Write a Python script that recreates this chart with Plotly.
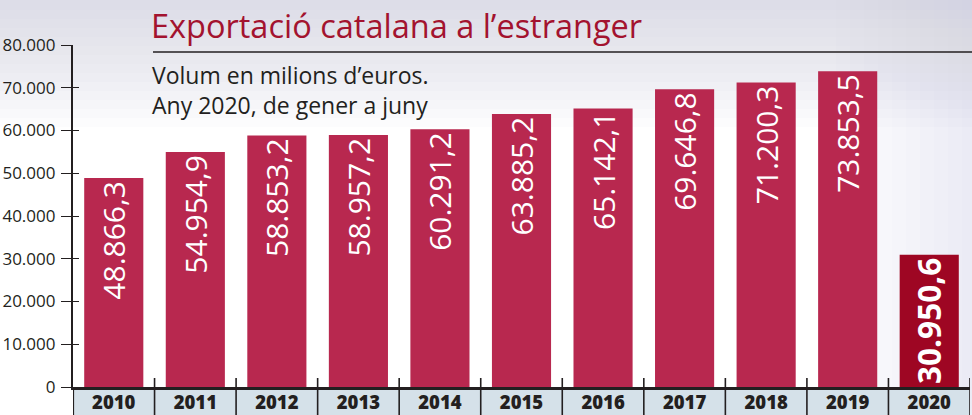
import plotly.graph_objects as go

years = ["2010", "2011", "2012", "2013", "2014", "2015", "2016", "2017", "2018", "2019", "2020"]
values = [48866.3, 54954.9, 58853.2, 58957.2, 60291.2, 63885.2, 65142.1, 69646.8, 71200.3, 73853.5, 30950.6]
value_labels = ["48.866,3", "54.954,9", "58.853,2", "58.957,2", "60.291,2", "63.885,2",
                "65.142,1", "69.646,8", "71.200,3", "73.853,5", "30.950,6"]
y_tickvals = [0, 10000, 20000, 30000, 40000, 50000, 60000, 70000, 80000]
y_ticktext = ["0", "10.000", "20.000", "30.000", "40.000", "50.000", "60.000", "70.000", "80.000"]
title_text = "Exportació catalana a l’estranger"
subtitle_lines = ["Volum en milions d’euros.", "Any 2020, de gener a juny"]

W, H = 972, 415
ML, MR, MT, MB = 73, 2, 45, 28
PW, PH = W - ML - MR, H - MT - MB


def xp(px):
    return (px - ML) / PW


def yp(py):
    return (H - MB - py) / PH


bar_colors = ["#b8284f"] * 10 + ["#9e0623"]
label_fonts = dict(family="Open Sans, sans-serif", color="white",
                   size=[30] * 10 + [33])
label_text = [t if i < 10 else "<b>" + t + "</b>" for i, t in enumerate(value_labels)]

fig = go.Figure()
fig.add_trace(go.Bar(
    x=years, y=values, marker=dict(color=bar_colors, line=dict(width=0)),
    text=label_text, textposition="inside", insidetextanchor="end", textangle=-90,
    textfont=label_fonts, hoverinfo="skip", showlegend=False,
))

shapes = []
# background gradient (top)
for i in range(14):
    shapes.append(dict(type="rect", xref="paper", yref="paper", layer="below",
                       x0=xp(0), x1=xp(W), y0=yp(0), y1=yp(10 + i * 9),
                       fillcolor="rgba(196,201,210,0.055)", line=dict(width=0)))
# background gradient (right side)
for i in range(10):
    shapes.append(dict(type="rect", xref="paper", yref="paper", layer="below",
                       x0=xp(W - 10 - i * 14), x1=xp(W), y0=yp(0), y1=yp(H),
                       fillcolor="rgba(200,205,214,0.035)", line=dict(width=0)))
# category band
shapes.append(dict(type="rect", xref="paper", yref="paper", layer="below",
                   x0=0, x1=1, y0=yp(H + 2), y1=0,
                   fillcolor="#d5e1e9", line=dict(width=0)))
# separators
for k in range(len(years) + 1):
    xb = k - 0.5
    top = 0 if k == 0 else yp(378)
    shapes.append(dict(type="line", xref="x", yref="paper", layer="above",
                       x0=xb, x1=xb, y0=yp(H + 2), y1=top,
                       line=dict(color="#231f20", width=1.6 if 0 < k else 2.2)))
# title underline
shapes.append(dict(type="line", xref="paper", yref="paper",
                   x0=xp(153), x1=xp(W + 2), y0=yp(52), y1=yp(52),
                   line=dict(color="#231f20", width=1.3)))

annotations = [
    dict(text=title_text, xref="paper", yref="paper", x=xp(149), y=yp(50),
         xanchor="left", yanchor="bottom", showarrow=False,
         font=dict(family="Open Sans, sans-serif", size=32.5, color="#a3132f")),
    dict(text="<br>".join(subtitle_lines), xref="paper", yref="paper", x=xp(150), y=yp(57),
         xanchor="left", yanchor="top", align="left", showarrow=False,
         font=dict(family="Open Sans, sans-serif", size=23, color="#231f20")),
]

fig.update_layout(
    width=W, height=H,
    margin=dict(l=ML, r=MR, t=MT, b=MB, pad=0, autoexpand=False),
    paper_bgcolor="white", plot_bgcolor="rgba(0,0,0,0)",
    bargap=0.275,
    shapes=shapes, annotations=annotations,
    xaxis=dict(type="category", showgrid=False, zeroline=False, showline=True,
               linecolor="#231f20", linewidth=2.5, ticks="", automargin=False,
               tickfont=dict(family="Open Sans, sans-serif", size=18.5, color="#231f20", weight=800),
               ticklabelstandoff=-3, range=[-0.5, 10.5]),
    yaxis=dict(range=[0, 80000], tickvals=y_tickvals, ticktext=y_ticktext, automargin=False,
               showgrid=False, zeroline=False, showline=True, linecolor="#231f20", linewidth=2.2,
               ticks="outside", ticklen=10, tickwidth=1.4, tickcolor="#231f20",
               tickfont=dict(family="Open Sans, sans-serif", size=17, color="#231f20"),
               ticklabelstandoff=2),
    yaxis2=dict(overlaying="y", matches="y", range=[0, 80000], tickvals=y_tickvals,
                showticklabels=False, showgrid=False, zeroline=False, showline=False,
                ticks="inside", ticklen=6, tickwidth=1.4, tickcolor="#231f20",
                anchor="x", side="left", automargin=False),
)
fig.add_trace(go.Scatter(x=[years[0]], y=[0], yaxis="y2", mode="markers",
                         marker=dict(opacity=0), hoverinfo="skip", showlegend=False))

fig.write_html("out.html", config={"displayModeBar": False},
               post_script="document.body.style.margin='0';")
